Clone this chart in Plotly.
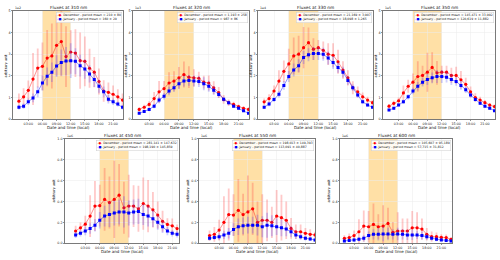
import plotly.graph_objects as go

W, H = 500, 260

# ---------------- data ----------------
hours_23 = list(range(1, 24))
hours_22 = list(range(1, 23))
tick_vals = [3, 6, 9, 12, 15, 18, 21]
tick_text = ["03:00", "06:00", "09:00", "12:00", "15:00", "18:00", "21:00"]
shade_start = 6
shade_end = 12

# 310 nm (units of 1e2)
dec_310 = [0.83, 1.03, 1.33, 1.85, 2.36, 2.44, 2.82, 2.92, 3.41, 3.58, 2.89, 3.10, 3.05,
           2.70, 2.67, 2.35, 2.17, 1.74, 1.30, 1.24, 1.15, 1.03, 0.88]
dec_310_err = [0.35, 0.4, 0.45, 1.2, 0.9, 1.1, 1.3, 1.5, 1.4, 1.6, 1.4, 1.0, 1.1,
               1.3, 1.15, 0.9, 0.7, 0.6, 0.5, 0.45, 0.4, 0.35, 0.3]
jan_310 = [0.55, 0.60, 0.80, 0.98, 1.26, 1.67, 1.98, 2.17, 2.45, 2.62, 2.68, 2.70, 2.67,
           2.47, 2.32, 2.09, 1.83, 1.52, 1.26, 0.92, 0.80, 0.70, 0.55]
jan_310_err = [0.1, 0.12, 0.15, 0.2, 0.25, 0.35, 0.4, 0.45, 0.5, 0.6, 0.65, 0.8, 0.6,
               0.5, 0.45, 0.4, 0.35, 0.3, 0.25, 0.2, 0.15, 0.12, 0.1]

# 320 nm (units of 1e3)
dec_320 = [0.45, 0.55, 0.68, 0.95, 1.26, 1.41, 1.67, 1.76, 1.91, 2.06, 1.94, 1.91, 1.89,
           1.71, 1.67, 1.45, 1.23, 0.91, 0.76, 0.68, 0.58, 0.50, 0.45]
dec_320_err = [0.1, 0.12, 0.15, 0.3, 0.5, 0.35, 0.5, 0.45, 0.5, 0.6, 0.5, 0.4, 0.3,
               0.3, 0.35, 0.3, 0.25, 0.2, 0.15, 0.12, 0.1, 0.1, 0.08]
jan_320 = [0.27, 0.35, 0.45, 0.60, 0.88, 1.06, 1.30, 1.45, 1.64, 1.76, 1.79, 1.76, 1.74,
           1.64, 1.52, 1.33, 1.14, 0.92, 0.76, 0.60, 0.50, 0.39, 0.27]
jan_320_err = [0.05, 0.06, 0.08, 0.1, 0.15, 0.15, 0.2, 0.2, 0.25, 0.25, 0.25, 0.25, 0.25,
               0.3, 0.25, 0.2, 0.15, 0.12, 0.1, 0.08, 0.06, 0.05, 0.05]

# 330 nm (units of 1e4)
dec_330 = [0.80, 0.95, 1.30, 1.76, 2.21, 2.55, 2.92, 3.00, 3.30, 3.53, 3.23, 3.30, 3.18,
           3.00, 2.95, 2.65, 2.27, 1.91, 1.45, 1.26, 1.03, 0.88, 0.76]
dec_330_err = [0.15, 0.2, 0.25, 0.5, 0.5, 0.7, 0.85, 0.85, 0.95, 0.7, 0.5, 0.35, 0.4,
               0.5, 0.55, 0.55, 0.4, 0.35, 0.3, 0.25, 0.2, 0.15, 0.12]
jan_330 = [0.55, 0.70, 0.91, 1.15, 1.56, 1.97, 2.27, 2.47, 2.85, 2.97, 3.03, 3.03, 3.00,
           2.82, 2.62, 2.39, 2.17, 1.79, 1.45, 1.11, 0.80, 0.65, 0.55]
jan_330_err = [0.08, 0.1, 0.12, 0.15, 0.2, 0.25, 0.3, 0.3, 0.3, 0.3, 0.3, 0.3, 0.3,
               0.3, 0.3, 0.25, 0.25, 0.2, 0.15, 0.12, 0.1, 0.08, 0.08]

# 350 nm (units of 1e5)
dec_350 = [0.60, 0.73, 0.85, 1.21, 1.52, 1.71, 1.97, 2.02, 2.17, 2.39, 2.14, 2.17, 2.17,
           2.02, 2.02, 1.82, 1.61, 1.26, 1.00, 0.88, 0.76, 0.65, 0.58]
dec_350_err = [0.1, 0.12, 0.15, 0.35, 0.3, 0.4, 0.7, 0.45, 0.9, 0.7, 0.55, 0.3, 0.3,
               0.35, 0.4, 0.4, 0.3, 0.25, 0.2, 0.15, 0.12, 0.1, 0.1]
jan_350 = [0.42, 0.50, 0.65, 0.80, 1.03, 1.30, 1.52, 1.71, 1.83, 1.91, 1.97, 1.97, 1.94,
           1.83, 1.74, 1.56, 1.36, 1.11, 0.91, 0.73, 0.60, 0.50, 0.39]
jan_350_err = [0.05, 0.06, 0.08, 0.1, 0.12, 0.15, 0.2, 0.2, 0.25, 0.25, 0.3, 0.3, 0.25,
               0.25, 0.2, 0.2, 0.15, 0.12, 0.1, 0.08, 0.06, 0.05, 0.05]

# 450 nm (units of 1e6)
dec_450 = [0.117, 0.148, 0.183, 0.26, 0.356, 0.36, 0.42, 0.39, 0.42, 0.46, 0.34, 0.356,
           0.356, 0.33, 0.38, 0.356, 0.32, 0.27, 0.21, 0.18, 0.167, 0.14]
dec_450_err = [0.05, 0.05, 0.08, 0.2, 0.24, 0.2, 0.3, 0.25, 0.37, 0.3, 0.25, 0.3,
               0.2, 0.22, 0.25, 0.25, 0.17, 0.13, 0.1, 0.06, 0.07, 0.04]
jan_450 = [0.08, 0.095, 0.117, 0.142, 0.173, 0.22, 0.26, 0.275, 0.29, 0.30, 0.30, 0.29,
           0.30, 0.305, 0.275, 0.26, 0.235, 0.20, 0.158, 0.117, 0.095, 0.085]
jan_450_err = [0.03, 0.03, 0.04, 0.05, 0.06, 0.08, 0.1, 0.12, 0.12, 0.12, 0.15, 0.12,
               0.12, 0.12, 0.1, 0.1, 0.08, 0.07, 0.06, 0.04, 0.03, 0.03]

# 550 nm (units of 1e6)
dec_550 = [0.073, 0.085, 0.126, 0.20, 0.275, 0.27, 0.315, 0.275, 0.30, 0.33, 0.20, 0.22,
           0.22, 0.20, 0.26, 0.245, 0.22, 0.142, 0.11, 0.11, 0.095, 0.085, 0.08]
dec_550_err = [0.05, 0.07, 0.1, 0.25, 0.25, 0.2, 0.3, 0.2, 0.35, 0.25, 0.2, 0.25,
               0.2, 0.15, 0.25, 0.22, 0.18, 0.1, 0.07, 0.07, 0.05, 0.05, 0.03]
jan_550 = [0.047, 0.054, 0.063, 0.08, 0.095, 0.132, 0.158, 0.167, 0.173, 0.173, 0.173, 0.158,
           0.173, 0.167, 0.158, 0.148, 0.136, 0.11, 0.08, 0.063, 0.047, 0.041, 0.032]
jan_550_err = [0.02, 0.02, 0.03, 0.04, 0.05, 0.06, 0.08, 0.08, 0.08, 0.08, 0.1, 0.1,
               0.12, 0.1, 0.08, 0.08, 0.07, 0.05, 0.04, 0.03, 0.02, 0.02, 0.02]

# 600 nm (units of 1e6)
dec_600 = [0.047, 0.054, 0.073, 0.11, 0.164, 0.158, 0.18, 0.158, 0.164, 0.19, 0.104, 0.117,
           0.117, 0.117, 0.148, 0.148, 0.136, 0.085, 0.063, 0.063, 0.057, 0.054, 0.038]
dec_600_err = [0.03, 0.04, 0.05, 0.12, 0.15, 0.15, 0.2, 0.12, 0.2, 0.15, 0.1, 0.18,
               0.12, 0.12, 0.16, 0.15, 0.1, 0.06, 0.05, 0.04, 0.03, 0.03, 0.02]
jan_600 = [0.022, 0.025, 0.032, 0.038, 0.047, 0.073, 0.085, 0.085, 0.088, 0.088, 0.085, 0.088,
           0.085, 0.08, 0.08, 0.08, 0.073, 0.063, 0.047, 0.038, 0.032, 0.025, 0.022]
jan_600_err = [0.01, 0.01, 0.02, 0.02, 0.03, 0.04, 0.05, 0.06, 0.07, 0.06, 0.05, 0.06,
               0.05, 0.05, 0.05, 0.04, 0.04, 0.03, 0.02, 0.02, 0.01, 0.01, 0.01]

titles = ["Fluxes at 310 nm", "Fluxes at 320 nm", "Fluxes at 330 nm", "Fluxes at 350 nm",
          "Fluxes at 450 nm", "Fluxes at 550 nm", "Fluxes at 600 nm"]
offset_labels = ["1e2", "1e3", "1e4", "1e5", "1e6", "1e6", "1e6"]
dec_labels = ["December - period mean = 210 ± 80",
              "December - period mean = 1,193 ± 258",
              "December - period mean = 21,169 ± 3,907",
              "December - period mean = 145,471 ± 33,992",
              "December - period mean = 281,141 ± 147,632",
              "December - period mean = 198,013 ± 149,393",
              "December - period mean = 105,607 ± 95,189"]
jan_labels = ["January - period mean = 160 ± 29",
              "January - period mean = 987 ± 86",
              "January - period mean = 18,098 ± 1,265",
              "January - period mean = 120,619 ± 11,882",
              "January - period mean = 198,190 ± 145,859",
              "January - period mean = 113,091 ± 40,887",
              "January - period mean = 57,715 ± 31,812"]

series = [
    (hours_23, dec_310, dec_310_err, jan_310, jan_310_err),
    (hours_23, dec_320, dec_320_err, jan_320, jan_320_err),
    (hours_23, dec_330, dec_330_err, jan_330, jan_330_err),
    (hours_23, dec_350, dec_350_err, jan_350, jan_350_err),
    (hours_22, dec_450, dec_450_err, jan_450, jan_450_err),
    (hours_23, dec_550, dec_550_err, jan_550, jan_550_err),
    (hours_23, dec_600, dec_600_err, jan_600, jan_600_err),
]

# ---------------- layout geometry (pixels) ----------------
panel_x = [(13, 123), (133, 249), (258, 373), (383, 495), (65, 179), (199, 315), (340, 452)]
panel_y = [(9, 119)] * 4 + [(139, 245)] * 3
x_ranges = [(-0.25, 23.1)] * 4 + [(-1.2, 22.4), (-1.2, 23.0), (0.1, 23.2)]
top_row = [True] * 4 + [False] * 3

FONT = "DejaVu Sans"


def fx(px):
    return px / W


def fy(py):
    return 1 - py / H


fig = go.Figure()
annotations = []
shapes = []
layout_axes = {}

for i in range(7):
    n = i + 1
    xs, dec, dec_err, jan, jan_err = series[i]
    xa = "x" if n == 1 else f"x{n}"
    ya = "y" if n == 1 else f"y{n}"
    x0, x1 = panel_x[i]
    y0, y1 = panel_y[i]

    fig.add_trace(go.Scatter(
        x=xs, y=dec, xaxis=xa, yaxis=ya, mode="lines+markers", showlegend=False,
        line=dict(color="rgba(255,0,0,0.55)", width=0.8),
        marker=dict(color="red", size=3.2, symbol="circle"),
        error_y=dict(type="data", array=dec_err, color="rgba(255,60,60,0.28)",
                     thickness=1.8, width=0),
    ))
    fig.add_trace(go.Scatter(
        x=xs, y=jan, xaxis=xa, yaxis=ya, mode="lines+markers", showlegend=False,
        line=dict(color="rgba(0,0,255,0.55)", width=0.8),
        marker=dict(color="blue", size=3.0, symbol="square"),
        error_y=dict(type="data", array=jan_err, color="rgba(60,60,255,0.25)",
                     thickness=1.8, width=0),
    ))

    axis_common = dict(
        showgrid=True, gridcolor="#ebebeb", gridwidth=0.5,
        showline=True, linecolor="#222222", linewidth=0.6, mirror=True,
        ticks="outside", ticklen=1.2, tickwidth=0.5, tickcolor="#222222",
        tickfont=dict(size=3.3, family=FONT, color="#222222"),
        zeroline=False,
    )
    xkey = "xaxis" if n == 1 else f"xaxis{n}"
    ykey = "yaxis" if n == 1 else f"yaxis{n}"
    layout_axes[xkey] = dict(
        axis_common, domain=[fx(x0), fx(x1)], range=list(x_ranges[i]),
        tickvals=tick_vals, ticktext=tick_text, anchor=ya,
    )
    if top_row[i]:
        layout_axes[ykey] = dict(axis_common, domain=[fy(y1), fy(y0)], range=[0, 5],
                                 tickvals=[0, 1, 2, 3, 4, 5],
                                 ticktext=["0", "1", "2", "3", "4", "5"], anchor=xa)
    else:
        layout_axes[ykey] = dict(axis_common, domain=[fy(y1), fy(y0)], range=[0, 1],
                                 tickvals=[0, 0.2, 0.4, 0.6, 0.8, 1.0],
                                 ticktext=["0.0", "0.2", "0.4", "0.6", "0.8", "1.0"],
                                 anchor=xa)

    shapes.append(dict(type="rect", xref=xa, yref=ya,
                       x0=shade_start, x1=shade_end,
                       y0=0, y1=(5 if top_row[i] else 1),
                       fillcolor="rgba(255,165,0,0.35)", line=dict(width=0),
                       layer="below"))

    cx = fx((x0 + x1) / 2)
    # title
    annotations.append(dict(text=titles[i], xref="paper", yref="paper", x=cx,
                            y=fy(y0 - 3.0), xanchor="center", yanchor="middle",
                            showarrow=False, borderpad=0,
                            font=dict(size=4.3, family=FONT, color="#111111")))
    # x label
    annotations.append(dict(text="Date and time (local)", xref="paper", yref="paper", x=cx,
                            y=fy(y1 + 8.6), xanchor="center", yanchor="middle",
                            showarrow=False, borderpad=0,
                            font=dict(size=4.0, family=FONT, color="#111111")))
    # y label
    ylab_off = 6.6 if top_row[i] else 10.5
    annotations.append(dict(text="arbitrary unit", xref="paper", yref="paper",
                            x=fx(x0 - ylab_off), y=fy((y0 + y1) / 2), xanchor="center",
                            yanchor="middle", textangle=-90, showarrow=False, borderpad=0,
                            font=dict(size=3.5, family=FONT, color="#111111")))
    # offset text
    annotations.append(dict(text=offset_labels[i], xref="paper", yref="paper",
                            x=fx(x0 + 0.5), y=fy(y0 - 0.3), xanchor="left", yanchor="bottom",
                            showarrow=False, borderpad=0,
                            font=dict(size=3.2, family=FONT, color="#222222")))
    # legend box
    legend_text = (f"<span style='color:red'>-●-</span> {dec_labels[i]}<br>"
                   f"<span style='color:blue'>-■-</span> {jan_labels[i]}")
    annotations.append(dict(text=legend_text, xref="paper", yref="paper",
                            x=fx(x1 - 1.5), y=fy(y0 + 1.0), xanchor="right", yanchor="top",
                            align="left", showarrow=False, bgcolor="rgba(255,255,255,0.85)",
                            bordercolor="#cccccc", borderwidth=0.5, borderpad=0.8,
                            font=dict(size=3.1, family=FONT, color="#222222")))

fig.update_layout(
    width=W, height=H, margin=dict(l=0, r=0, t=0, b=0),
    paper_bgcolor="white", plot_bgcolor="white",
    font=dict(family=FONT, size=4, color="#222222"),
    annotations=annotations, shapes=shapes, showlegend=False,
    hovermode=False,
    **layout_axes,
)

fig.write_html(
    "out.html",
    config={"displayModeBar": False, "staticPlot": True},
    post_script="document.body.style.margin='0px';document.body.style.padding='0px';",
)
